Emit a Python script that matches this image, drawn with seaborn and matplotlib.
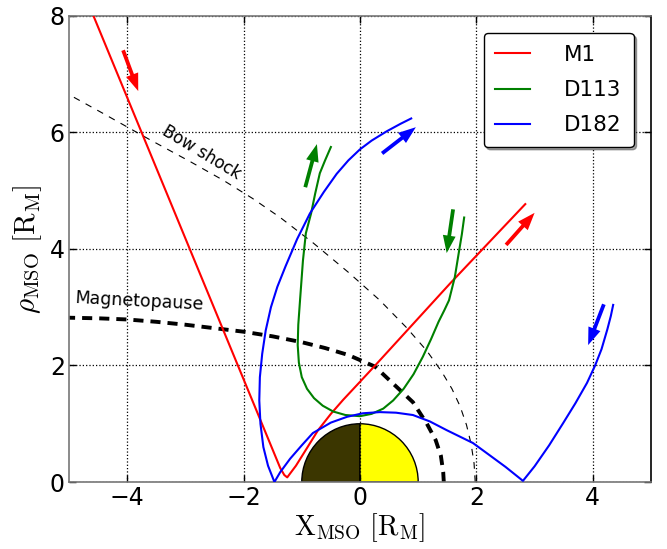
import numpy as np
import pandas as pd
import matplotlib
matplotlib.use("Agg")
import matplotlib.pyplot as plt
from matplotlib.patches import Wedge
import seaborn as sns

# ---------------- data ----------------
m1_x = [-4.62, -1.37, -1.30, -1.25, -1.10, -0.90, -0.72, -0.50, -0.29, 0.00, 0.26, 1.55, 2.84]
m1_y = [8.10, 0.24, 0.12, 0.08, 0.28, 0.60, 0.89, 1.17, 1.41, 1.72, 2.00, 3.41, 4.77]

d113_x = [-0.50, -0.60, -0.69, -0.77, -0.84, -0.93, -0.98, -1.03, -1.06, -1.07, -1.05, -1.00,
          -0.91, -0.79, -0.64, -0.46, -0.25, 0.00, 0.20, 0.40, 0.57, 0.75, 0.92, 1.08, 1.22,
          1.35, 1.45, 1.53, 1.63, 1.70, 1.75, 1.79]
d113_y = [5.75, 5.52, 5.30, 4.95, 4.61, 4.27, 3.80, 3.12, 2.70, 2.35, 2.05, 1.80,
          1.60, 1.44, 1.31, 1.21, 1.15, 1.13, 1.17, 1.26, 1.40, 1.60, 1.85, 2.15, 2.45,
          2.75, 2.95, 3.12, 3.52, 3.95, 4.25, 4.54]

d182_x = [0.88, 0.70, 0.46, 0.20, 0.00, -0.20, -0.40, -0.62, -0.86, -1.08, -1.28, -1.42, -1.53,
          -1.62, -1.68, -1.72, -1.73, -1.71, -1.66, -1.58, -1.47, -1.37, -1.20, -1.00, -0.81,
          -0.50, -0.22, 0.05, 0.34, 0.62, 0.91, 1.20, 1.49, 1.94, 2.20, 2.50, 2.80, 3.00, 3.25,
          3.49, 3.70, 3.90, 4.04, 4.15, 4.25, 4.31, 4.35]
d182_y = [6.24, 6.15, 6.02, 5.86, 5.71, 5.52, 5.29, 4.98, 4.61, 4.17, 3.70, 3.35, 3.00,
          2.60, 2.20, 1.80, 1.40, 1.00, 0.60, 0.28, 0.00, 0.17, 0.40, 0.63, 0.84,
          1.02, 1.12, 1.18, 1.20, 1.19, 1.15, 1.04, 0.89, 0.67, 0.48, 0.26, 0.02, 0.27, 0.63,
          1.01, 1.35, 1.70, 2.00, 2.28, 2.62, 2.85, 3.04]

bow_x = [1.98, 1.96, 1.91, 1.83, 1.72, 1.58, 1.40, 1.15, 0.80, 0.34, -0.20, -0.80, -1.37,
         -1.85, -2.35, -2.90, -3.60, -4.42, -5.00]
bow_y = [0.00, 0.32, 0.65, 0.98, 1.30, 1.60, 1.90, 2.25, 2.65, 3.12, 3.60, 4.10, 4.54,
         4.87, 5.18, 5.49, 5.87, 6.33, 6.65]

mp_x = [1.44, 1.43, 1.39, 1.30, 1.15, 0.91, 0.60, 0.26, -0.20, -0.60, -1.00, -1.50, -2.00,
        -2.50, -3.00, -3.50, -4.00, -4.50, -5.00]
mp_y = [0.00, 0.17, 0.45, 0.72, 1.00, 1.37, 1.66, 1.98, 2.18, 2.30, 2.40, 2.50, 2.58,
        2.64, 2.70, 2.75, 2.79, 2.81, 2.82]

# arrows: tail x, tail y, tip x, tip y
arrow_tail_x = [-4.07, 2.51, -0.94, 1.60, 0.38, 4.19]
arrow_tail_y = [7.41, 4.07, 5.06, 4.68, 5.64, 3.05]
arrow_tip_x = [-3.81, 3.00, -0.74, 1.49, 0.96, 3.92]
arrow_tip_y = [6.71, 4.62, 5.80, 3.93, 6.09, 2.35]
arrow_orbit = ["M1", "M1", "D113", "D113", "D182", "D182"]

orbits = ["M1", "D113", "D182"]
colors = {"M1": "#ff0000", "D113": "#008000", "D182": "#0000ff"}

df = pd.concat([
    pd.DataFrame({"x": m1_x, "y": m1_y, "orbit": "M1"}),
    pd.DataFrame({"x": d113_x, "y": d113_y, "orbit": "D113"}),
    pd.DataFrame({"x": d182_x, "y": d182_y, "orbit": "D182"}),
], ignore_index=True)

# ---------------- figure ----------------
plt.rcParams["mathtext.fontset"] = "cm"
plt.rcParams["font.family"] = ["DejaVu Sans"]

fig = plt.figure(figsize=(6.67, 5.49), dpi=100)
ax = fig.add_axes([0.1034, 0.122, 0.8726, 0.849])

# planet: night side dark, day side yellow
ax.add_patch(Wedge((0, 0), 1.0, 90, 180, facecolor="#3b3600", edgecolor="black", lw=1.0, zorder=1))
ax.add_patch(Wedge((0, 0), 1.0, 0, 90, facecolor="#ffff00", edgecolor="black", lw=1.0, zorder=1))

# boundaries
ax.plot(bow_x, bow_y, color="black", lw=0.8, ls=(0, (6, 6)), zorder=2)
ax.plot(mp_x, mp_y, color="black", lw=2.8, ls=(0, (2.6, 1.8)), zorder=2)

sns.lineplot(data=df, x="x", y="y", hue="orbit", hue_order=orbits, palette=colors,
             sort=False, estimator=None, units="orbit", lw=1.5, ax=ax, zorder=3)

for tx, ty, hx, hy, o in zip(arrow_tail_x, arrow_tail_y, arrow_tip_x, arrow_tip_y, arrow_orbit):
    ax.arrow(tx, ty, hx - tx, hy - ty, width=0.065, head_width=0.22, head_length=0.30,
             length_includes_head=True, color=colors[o], lw=0, zorder=4)

ax.text(-2.72, 5.66, "Bow shock", rotation=-31, fontsize=12, ha="center", va="center")
ax.text(-3.8, 3.10, "Magnetopause", rotation=-3, fontsize=12.5, ha="center", va="center")

ax.set_xlim(-5, 5)
ax.set_ylim(0, 8)
ax.set_xticks([-4, -2, 0, 2, 4])
ax.set_yticks([0, 2, 4, 6, 8])
ax.tick_params(direction="in", length=5, width=1, labelsize=17, top=True, right=True, pad=3)
ax.grid(True, color="black", ls=":", lw=0.9)
ax.set_axisbelow("line")

for side in ["left", "bottom", "top"]:
    ax.spines[side].set_color("#777777")
    ax.spines[side].set_linewidth(1.2)
ax.spines["right"].set_color("black")
ax.spines["right"].set_linewidth(1.2)

ax.set_xlabel(r"$\mathrm{X_{MSO}\ [R_M]}$", fontsize=20, labelpad=1)
ax.set_ylabel(r"$\rho_{\mathrm{MSO}}\ \mathrm{[R_M]}$", fontsize=21, labelpad=4)

handles, labels = ax.get_legend_handles_labels()
leg = ax.legend(handles, labels, loc="upper right", fontsize=15.5, frameon=True, fancybox=True,
                shadow=True, handlelength=1.6, handletextpad=1.6, labelspacing=0.7,
                borderpad=0.55, borderaxespad=0.8, title=None)
leg.get_frame().set_edgecolor("black")
leg.get_frame().set_linewidth(1.0)
for lh in leg.get_lines():
    lh.set_linewidth(1.5)

fig.savefig("out.png", dpi=100)
